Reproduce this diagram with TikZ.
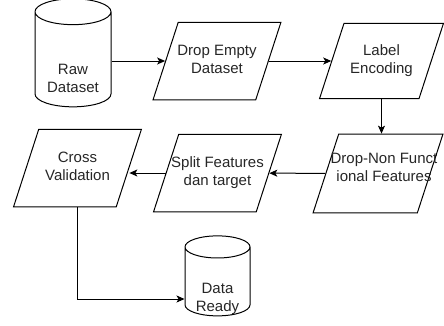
\documentclass[tikz,border=0pt]{standalone}
\usepackage{fontspec}
\setmainfont{Liberation Sans}
\usetikzlibrary{shapes.geometric, arrows.meta}

% two centred lines in a box of no height, moved down by the optional amount
\newcommand\lbl[3][0pt]{\makebox[0pt]{\raisebox{\dimexpr#1-3.75pt\relax}[0pt][0pt]{\begin{tabular}{@{}c@{}}#2\\#3\end{tabular}}}}
% same, but as wide as the cylinder body
\newcommand\dblbl[4][-22pt]{\makebox[#2]{\raisebox{#1}[0pt][0pt]{\begin{tabular}{@{}c@{}}#3\\#4\end{tabular}}}}

\tikzset{
  process/.style={draw, shape=trapezium, trapezium left angle=72, trapezium right angle=108, minimum width=128pt, minimum height=64pt, inner sep=1pt},
  store/.style={draw, shape=cylinder, shape border rotate=90, aspect=0.34, inner sep=1pt},
  flow/.style={-{Stealth[length=8pt, width=7pt, inset=2pt]}}
}

\begin{document}
\begin{tikzpicture}[x=1pt, y=-1pt, line width=1pt, font=\fontsize{15}{18}\selectfont, text=black!85]
    \useasboundingbox (0,0) rectangle (444,325);
    \node(raw)[store, minimum height=108pt] at (73,61) {\dblbl{74pt}{Raw}{Dataset}};
    \node(drop)[process] at (217,61) {\lbl{Drop Empty}{Dataset}};
    \node(label)[process, minimum width=124pt] at (381.5,61) {\lbl{Label}{Encoding}};
    \node(dnf)[process, minimum width=130pt, minimum height=75pt] at (378,173.5) {\lbl[5pt]{\hspace*{12pt}Drop-Non Funct}{\hspace*{12pt}ional Features}};
    \node(split)[process, minimum height=62pt] at (217.5,173) {\lbl{Split Features}{dan target}};
    \node(cross)[process] at (77.5,168) {\lbl{Cross}{Validation}};
    \node(ready)[store, minimum height=80pt] at (217.5,283) {\dblbl[-19pt]{63pt}{Data}{Ready}};
    \draw[flow] (raw) -- (drop);
    \draw[flow] (drop) -- (label);
    \draw[flow] (label.south) -- (label.south |- dnf.north);
    \draw[flow] (dnf) -- (split);
    \draw[flow] (split.west) -- (split.west -| cross.east);
    \draw[flow] (cross.south) |- ([yshift=-16pt]ready.west);
\end{tikzpicture}
\end{document}
